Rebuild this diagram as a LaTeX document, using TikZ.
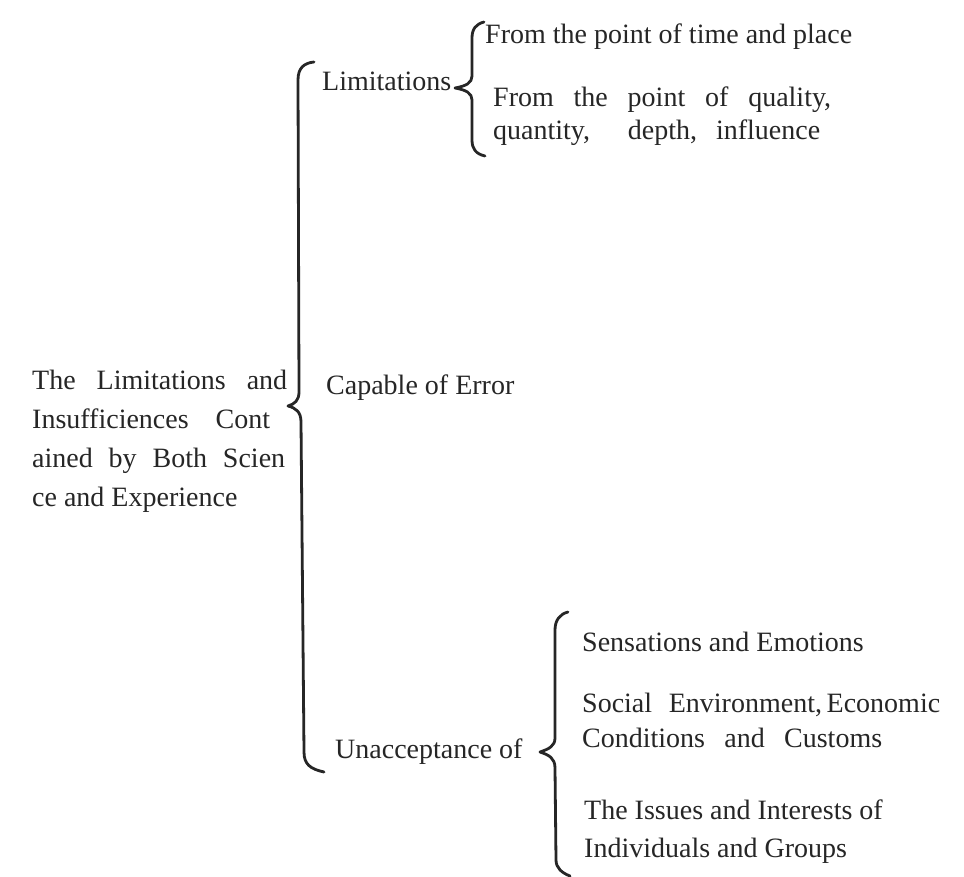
\documentclass[tikz,border=0pt]{standalone}
\usepackage{fontspec}
\setmainfont{Liberation Serif}
\tikzset{
  txt/.style={anchor=west, inner sep=0pt, font=\fontsize{28}{39}\selectfont, text=black!85},
  brace/.style={line width=2.8pt, line cap=round, line join=round, draw=black!85},
}
\begin{document}
\begin{tikzpicture}[x=1pt,y=-1pt]
\useasboundingbox[fill=white] (0,0) rectangle (964,877);

% texts
\node[txt, align=left] (root) at (32,441)
 {\makebox[255pt][s]{The\hfill Limitations\hfill and}\\
  \makebox[238pt][s]{Insufficiences\hfill Cont}\\
  \makebox[253pt][s]{ained\hfill by\hfill Both\hfill Scien}\\
  ce and Experience};

\node[txt] (lim) at (322,81) {Limitations};
\node[txt] (cap) at (326,388) {Capable of Error};
\node[txt] (una) at (335,752) {Unacceptance of};

\node[txt] (l1) at (485,37) {From the point of time and place};
\node[txt, align=left, font=\fontsize{28}{33}\selectfont] (l2) at (493,116)
 {\makebox[338pt][s]{From\hfill the\hfill point\hfill of\hfill quality,}\\
  \makebox[327pt][s]{quantity,\hfill\hfill depth,\hfill influence}};

\node[txt] (u1) at (582,642) {Sensations and Emotions};
\node[txt, align=left, font=\fontsize{28}{35}\selectfont] (u2) at (582,720)
 {\makebox[358pt][s]{Social\hfill Environment,\,Economic}\\
  \makebox[300pt][s]{Conditions\hfill and\hfill Customs}};
\node[txt, align=left, font=\fontsize{28}{38}\selectfont] (u3) at (584,832)
 {The Issues and Interests of\\
  Individuals and Groups};

% brace coordinates
\coordinate (b1t) at (314,62);
\coordinate (b1m) at (288,406);
\coordinate (b1b) at (324,772);
\coordinate (b2t) at (484,22);
\coordinate (b2m) at (455,88);
\coordinate (b2b) at (485,156);
\coordinate (b3t) at (568,612);
\coordinate (b3m) at (540,752);
\coordinate (b3b) at (570,876);

% big brace
\draw[brace] (b1t) .. controls (304,63) and (298,68) .. (298,80)
  -- (299,392) .. controls (299,400) and (295,404) .. (b1m)
  .. controls (296,408) and (301,412) .. (301,422)
  -- (304,752) .. controls (304,764) and (310,769) .. (b1b);

% limitations brace
\draw[brace] (b2t) .. controls (476,24) and (472,29) .. (472,38)
  -- (472,76) .. controls (472,83) and (466,86) .. (b2m)
  .. controls (466,90) and (472,93) .. (472,100)
  -- (472,140) .. controls (472,149) and (476,154) .. (b2b);

% unacceptance brace
\draw[brace] (b3t) .. controls (560,614) and (555,620) .. (555,630)
  -- (555,738) .. controls (555,746) and (549,749) .. (b3m)
  .. controls (549,755) and (555,758) .. (555,768)
  -- (556,860) .. controls (556,868) and (562,873) .. (b3b);
\end{tikzpicture}
\end{document}
